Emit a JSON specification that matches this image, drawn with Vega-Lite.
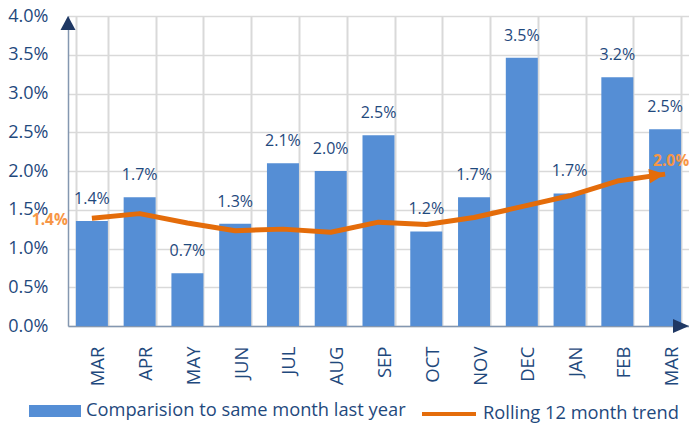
{
  "$schema": "https://vega.github.io/schema/vega-lite/v6.json",
  "width": 621,
  "height": 310,
  "autosize": {"type": "none"},
  "padding": {"left": 68, "top": 16, "right": 0, "bottom": 99},
  "background": "white",
  "config": {
    "view": {"stroke": null},
    "font": "Open Sans",
    "axis": {"labelOverlap": false, "labelFont": "Open Sans", "labelColor": "#1F497D", "ticks": false, "domainColor": "#8497B0", "domainWidth": 1.5, "gridColor": "#D9D9D9", "labelPadding": 20},
    "axisY": {"labelOverlap": false, "labelFontSize": 18, "gridWidth": 1.5},
    "axisX": {"labelOverlap": false, "labelFontSize": 18.5, "gridWidth": 2},
    "legend": {
      "labelFont": "Open Sans",
      "labelFontSize": 18.3,
      "labelColor": "#1F497D",
      "labelLimit": 600,
      "labelOffset": 5
    }
  },
  "data": {
    "values": [
      {"k": "MAR_1", "bar": 0.01356, "trend": 0.0139},
      {"k": "APR", "bar": 0.0166, "trend": 0.0145},
      {"k": "MAY", "bar": 0.0068, "trend": 0.0133},
      {"k": "JUN", "bar": 0.0132, "trend": 0.0123},
      {"k": "JUL", "bar": 0.0210, "trend": 0.0125},
      {"k": "AUG", "bar": 0.0200, "trend": 0.0121},
      {"k": "SEP", "bar": 0.0246, "trend": 0.0134},
      {"k": "OCT", "bar": 0.0122, "trend": 0.0131},
      {"k": "NOV", "bar": 0.0166, "trend": 0.0140},
      {"k": "DEC", "bar": 0.0346, "trend": 0.0154},
      {"k": "JAN", "bar": 0.0171, "trend": 0.0168},
      {"k": "FEB", "bar": 0.0321, "trend": 0.0187},
      {"k": "MAR_2", "bar": 0.0254, "trend": 0.0196}
    ]
  },
  "layer": [
    {
      "mark": {"type": "bar"},
      "encoding": {
        "x": {
          "field": "k", "type": "nominal", "sort": null,
          "scale": {"paddingInner": 0.33, "paddingOuter": 0.165},
          "axis": {"title": null, "labelExpr": "split(datum.label, '_')[0]", "labelAngle": -90, "labelOffset": 6, "labelOverlap": false, "grid": true, "tickBand": "extent"}
        },
        "y": {
          "field": "bar", "type": "quantitative",
          "scale": {"domain": [0, 0.04], "nice": false},
          "axis": {"title": null, "values": [0, 0.005, 0.01, 0.015, 0.02, 0.025, 0.03, 0.035, 0.04], "format": ".1%", "labelOverlap": false, "grid": true}
        },
        "fill": {
          "datum": "Comparision to same month last year",
          "scale": {"range": ["#558ED5"]},
          "legend": {"title": null, "orient": "none", "legendX": -39, "legendY": 369, "symbolType": "M-1,-0.23H1V0.23H-1Z", "symbolSize": 2704, "symbolStrokeWidth": 0}
        }
      }
    },
    {
      "mark": {"type": "text", "baseline": "alphabetic", "dy": -17, "fontSize": 16, "font": "Open Sans", "color": "#1F497D"},
      "encoding": {
        "x": {"field": "k", "type": "nominal", "sort": null, "axis": {"title": null, "labelExpr": "split(datum.label, '_')[0]", "labelAngle": -90, "labelOffset": 6, "labelOverlap": false, "grid": true, "tickBand": "extent"}},
        "y": {"field": "bar", "type": "quantitative", "axis": {"title": null, "values": [0, 0.005, 0.01, 0.015, 0.02, 0.025, 0.03, 0.035, 0.04], "format": ".1%", "labelOverlap": false, "grid": true}},
        "text": {"field": "bar", "type": "quantitative", "format": ".1%"}
      }
    },
    {
      "mark": {"type": "line", "strokeWidth": 5, "strokeJoin": "round"},
      "encoding": {
        "x": {"field": "k", "type": "nominal", "sort": null, "axis": {"title": null, "labelExpr": "split(datum.label, '_')[0]", "labelAngle": -90, "labelOffset": 6, "labelOverlap": false, "grid": true, "tickBand": "extent"}},
        "y": {"field": "trend", "type": "quantitative", "axis": {"title": null, "values": [0, 0.005, 0.01, 0.015, 0.02, 0.025, 0.03, 0.035, 0.04], "format": ".1%", "labelOverlap": false, "grid": true}},
        "stroke": {
          "datum": "Rolling 12 month trend",
          "scale": {"range": ["#E46C0A"]},
          "legend": {"title": null, "orient": "none", "legendX": 352, "legendY": 369, "symbolType": "M-1,0H1", "symbolSize": 2916, "symbolStrokeWidth": 4}
        }
      }
    },
    {
      "transform": [{"filter": "datum.k == 'MAR_2'"}],
      "mark": {"type": "point", "shape": "M0,0L-2,-0.9L-2,0.9Z", "size": 256, "filled": true, "color": "#E46C0A", "opacity": 1, "angle": 353},
      "encoding": {
        "x": {"field": "k", "type": "nominal", "sort": null, "axis": {"title": null, "labelExpr": "split(datum.label, '_')[0]", "labelAngle": -90, "labelOffset": 6, "labelOverlap": false, "grid": true, "tickBand": "extent"}},
        "y": {"field": "trend", "type": "quantitative", "axis": {"title": null, "values": [0, 0.005, 0.01, 0.015, 0.02, 0.025, 0.03, 0.035, 0.04], "format": ".1%", "labelOverlap": false, "grid": true}}
      }
    },
    {
      "transform": [{"filter": "datum.k == 'MAR_1'"}],
      "mark": {"type": "text", "align": "right", "baseline": "alphabetic", "dx": -24, "dy": 7, "fontSize": 15.5, "fontWeight": "bold", "font": "Open Sans", "color": "#F79646"},
      "encoding": {
        "x": {"field": "k", "type": "nominal", "sort": null, "axis": {"title": null, "labelExpr": "split(datum.label, '_')[0]", "labelAngle": -90, "labelOffset": 6, "labelOverlap": false, "grid": true, "tickBand": "extent"}},
        "y": {"field": "trend", "type": "quantitative", "axis": {"title": null, "values": [0, 0.005, 0.01, 0.015, 0.02, 0.025, 0.03, 0.035, 0.04], "format": ".1%", "labelOverlap": false, "grid": true}},
        "text": {"field": "trend", "type": "quantitative", "format": ".1%"}
      }
    },
    {
      "transform": [{"filter": "datum.k == 'MAR_2'"}],
      "mark": {"type": "text", "align": "center", "baseline": "alphabetic", "dx": 6, "dy": -8, "fontSize": 15.5, "fontWeight": "bold", "font": "Open Sans", "color": "#F79646"},
      "encoding": {
        "x": {"field": "k", "type": "nominal", "sort": null, "axis": {"title": null, "labelExpr": "split(datum.label, '_')[0]", "labelAngle": -90, "labelOffset": 6, "labelOverlap": false, "grid": true, "tickBand": "extent"}},
        "y": {"field": "trend", "type": "quantitative", "axis": {"title": null, "values": [0, 0.005, 0.01, 0.015, 0.02, 0.025, 0.03, 0.035, 0.04], "format": ".1%", "labelOverlap": false, "grid": true}},
        "text": {"field": "trend", "type": "quantitative", "format": ".1%"}
      }
    },
    {
      "data": {"values": [{"axis": "y"}]},
      "mark": {"type": "point", "shape": "M0,0L-1.07,2L1.07,2Z", "size": 196, "filled": true, "color": "#1F3864", "opacity": 1},
      "encoding": {
        "x": {"datum": "MAR_1", "type": "nominal", "bandPosition": -0.246, "axis": {"title": null, "labelExpr": "split(datum.label, '_')[0]", "labelAngle": -90, "labelOffset": 6, "labelOverlap": false, "grid": true, "tickBand": "extent"}},
        "y": {"datum": 0.04, "type": "quantitative", "axis": {"title": null, "values": [0, 0.005, 0.01, 0.015, 0.02, 0.025, 0.03, 0.035, 0.04], "format": ".1%", "labelOverlap": false, "grid": true}}
      }
    },
    {
      "data": {"values": [{"axis": "x"}]},
      "mark": {"type": "point", "shape": "M0,0L-2,-0.875L-2,0.875Z", "size": 256, "filled": true, "color": "#1F3864", "opacity": 1},
      "encoding": {
        "x": {"datum": "MAR_2", "type": "nominal", "bandPosition": 1.246, "axis": {"title": null, "labelExpr": "split(datum.label, '_')[0]", "labelAngle": -90, "labelOffset": 6, "labelOverlap": false, "grid": true, "tickBand": "extent"}},
        "y": {"datum": 0, "type": "quantitative", "axis": {"title": null, "values": [0, 0.005, 0.01, 0.015, 0.02, 0.025, 0.03, 0.035, 0.04], "format": ".1%", "labelOverlap": false, "grid": true}}
      }
    }
  ]
}
